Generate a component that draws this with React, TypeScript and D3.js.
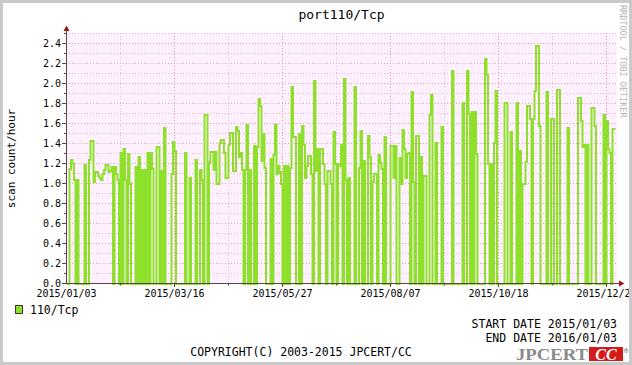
import React from 'react';
import * as d3 from 'd3';

// daily scan counts per hour, starting 2015/01/03
const block1 = [
  0, 0, 1.15, 1.24, 1.2, 1.04, 0, 1.04, 0, 0,
  0, 0, 1.19, 0, 0, 1.24, 1.43, 1.43, 1.02, 1.12,
  1.12, 1.08, 1.06, 1.03, 1.09, 1.14, 1.19, 1.19, 1.12, 1.13,
  1.17, 0, 1.17, 1.1, 1.03, 0, 1.31, 0, 1.35, 1.03,
  0, 1.3, 1.0, 0, 0, 0, 1.17, 0, 1.27, 0,
  1.14, 0, 1.14, 0, 1.31, 0, 1.31, 1.15, 0, 0,
];
const block2 = [
  1.37, 1.37, 0, 1.13, 0, 1.56, 0, 0, 0, 0,
  1.09, 1.42, 1.33, 0, 0, 0, 0, 0, 0, 1.31,
  0, 0, 1.06, 0, 0, 0, 1.24, 0, 0, 1.14,
  1.03, 0, 1.69, 1.69, 0, 1.22, 1.32, 1.32, 1.14, 1.32,
  1.0, 1.0, 1.41, 1.44, 1.44, 1.31, 1.06, 1.06, 1.39, 1.51,
  1.51, 1.13, 1.13, 1.57, 1.53, 1.27, 1.31, 1.14, 0, 1.14,
];
const block3 = [
  1.59, 0, 1.14, 0, 0, 1.38, 0, 1.36, 1.85, 1.78,
  1.23, 1.5, 1.16, 0, 0, 0, 1.25, 0, 1.29, 1.59,
  1.1, 1.18, 1.12, 1.0, 0, 1.18, 0, 1.18, 0, 1.16,
  1.96, 1.47, 1.47, 0, 0, 1.5, 0, 1.58, 1.39, 1.06,
  1.18, 1.28, 1.28, 1.1, 0, 2.03, 1.13, 1.34, 0, 1.34,
  1.34, 1.2, 1.0, 0, 1.13, 1.13, 1.0, 0, 1.52, 1.2,
];
const block4 = [
  0, 1.2, 1.18, 1.39, 0, 2.04, 1.03, 0, 1.06, 0,
  0, 0, 1.96, 0, 0, 1.16, 1.53, 0, 1.23, 0,
  0, 1.48, 1.27, 0, 1.02, 1.1, 1.1, 0, 1.29, 1.21,
  1.15, 0, 1.47, 0, 0, 0, 1.38, 1.38, 1.06, 1.38,
  0, 0, 1.26, 1.0, 1.54, 1.34, 1.05, 1.3, 1.31, 0,
  1.92, 1.02, 0, 1.48, 1.48, 0, 1.27, 0, 1.07, 1.07,
];
const block5 = [
  0, 0, 1.69, 1.89, 0, 0, 1.41, 0, 0, 0,
  1.57, 0, 0, 0, 0, 0, 0, 2.13, 0, 0,
  0, 0, 0, 0, 1.81, 0, 0, 2.13, 1.7, 0,
  1.72, 0, 1.72, 1.3, 0, 0, 0, 0, 0, 2.25,
  2.08, 1.2, 0, 1.2, 0, 1.41, 1.93, 0, 0, 0,
  0, 0, 1.81, 1.81, 0, 0, 1.52, 0, 0, 0,
];
const block6 = [
  1.81, 0, 1.33, 0, 1.0, 1.0, 1.22, 1.78, 1.78, 1.65,
  0, 1.65, 1.93, 2.37, 2.37, 1.58, 0, 0, 0, 0,
  1.92, 0, 0, 1.65, 1.65, 0, 0, 1.94, 1.94, 0,
  0, 0, 0, 0, 1.56, 0, 0, 0, 0, 0,
  0, 1.86, 1.86, 1.63, 1.36, 1.39, 0, 1.39, 0, 0,
  1.76, 1.76, 1.58, 0, 0, 0, 0, 0, 1.69, 0,
  1.62, 1.34, 1.31, 0, 1.55, 1.55,
];

const values = [...block1, ...block2, ...block3, ...block4, ...block5, ...block6];
const yTicks = [0, 0.2, 0.4, 0.6, 0.8, 1.0, 1.2, 1.4, 1.6, 1.8, 2.0, 2.2, 2.4];
const yMinor = d3.range(0, 26).map(i => i / 10);
const gridDays = d3.range(1, 11).map(k => k * 36);
const labelDays = [0, 72, 144, 216, 288, 360];

const startDate = new Date(Date.UTC(2015, 0, 3));
const seriesName = '110/Tcp';
const title = 'port110/Tcp';

const FONT = '"DejaVu Sans Mono", monospace';
const GREEN = '#8ee02a';

export default function App() {
  const W = 632, H = 365;
  const plotLeft = 66, plotRight = 617, plotTop = 33, plotBottom = 283;

  const endDate = d3.utcDay.offset(startDate, values.length);
  const x = d3.scaleUtc().domain([startDate, endDate]).range([66.5, 66.5 + 1.5 * values.length]);
  const y = d3.scaleLinear().domain([0, 2.5]).range([283.5, 33.5]);

  const pts = values.map((v, i) => ({ t: d3.utcDay.offset(startDate, i), v }));
  pts.push({ t: endDate, v: values[values.length - 1] });
  const line = d3.line<{ t: Date; v: number }>()
    .x(d => x(d.t))
    .y(d => Math.round(y(d.v)))
    .curve(d3.curveStepAfter);

  const fmt = d3.utcFormat('%Y/%m/%d');

  return (
    <svg width={W} height={H} style={{ position: 'absolute', left: 0, top: 0, background: '#fff' }}
      fontFamily={FONT}>
      <rect x={0} y={0} width={W} height={H} fill="#fff" />
      <rect x={plotLeft} y={plotTop} width={plotRight - plotLeft} height={plotBottom - plotTop} fill="#fff0ff" />

      {/* horizontal grid */}
      {yMinor.slice(1).map(v => (
        <line key={'h' + v} x1={plotLeft} x2={plotRight} y1={y(v)} y2={y(v)}
          stroke={Math.round(v * 10) % 2 === 0 ? '#e0a0b0' : '#dcb8c8'} strokeDasharray="1,2" />
      ))}
      {/* vertical grid */}
      {gridDays.map(d => (
        <line key={'v' + d} x1={x(d3.utcDay.offset(startDate, d))} x2={x(d3.utcDay.offset(startDate, d))}
          y1={plotTop} y2={plotBottom}
          stroke={d % 72 === 0 ? '#e89a9a' : '#d4c4d4'} strokeDasharray="1,2" />
      ))}

      {/* series */}
      <path d={line(pts) || ''} fill="none" stroke={GREEN} strokeWidth={2} />

      {/* axes */}
      <line x1={66.5} x2={66.5} y1={283.5} y2={29} stroke="#5c4444" />
      <line x1={66} x2={620} y1={283.5} y2={283.5} stroke="#5c4444" />
      <path d="M63.5,31 L69.5,31 L66.5,25.5 Z" fill="#a31515" />
      <path d="M619,280.5 L619,286.5 L624.5,283.5 Z" fill="#a31515" />
      {yMinor.map(v => (
        <line key={'t' + v} x1={Math.round(v * 10) % 2 === 0 ? 62 : 64} x2={66} y1={y(v)} y2={y(v)} stroke="#5c4444" />
      ))}
      {gridDays.map(d => (
        <line key={'xt' + d} x1={x(d3.utcDay.offset(startDate, d))} x2={x(d3.utcDay.offset(startDate, d))}
          y1={284} y2={d % 72 === 0 ? 287 : 285.5} stroke="#5c4444" />
      ))}

      {/* y labels */}
      {yTicks.map(v => (
        <text key={'yl' + v} x={61} y={y(v) + 3.5} fontSize={10} textAnchor="end" fill="#000">{v.toFixed(1)}</text>
      ))}
      {/* x labels */}
      {labelDays.map(d => (
        <text key={'xl' + d} x={x(d3.utcDay.offset(startDate, d))} y={296.5} fontSize={10} textAnchor="middle" fill="#000">
          {fmt(d3.utcDay.offset(startDate, d))}
        </text>
      ))}

      <text x={341.5} y={18.5} fontSize={13} textAnchor="middle" fill="#000">{title}</text>
      <text transform="translate(15,158.5) rotate(-90)" fontSize={11} textAnchor="middle" fill="#000">scan count/hour</text>
      <text transform="translate(620,5) rotate(90)" fontSize={8.5} fill="#b4b4b4">RRDTOOL / TOBI OETIKER</text>

      {/* legend */}
      <rect x={15.5} y={305.5} width={7} height={8} fill={GREEN} stroke="#3a3a3a" />
      <text x={30} y={313.5} fontSize={11.5} fill="#000">{seriesName}</text>

      <text x={617} y={327.5} fontSize={11.5} textAnchor="end" fill="#000">START DATE 2015/01/03</text>
      <text x={617} y={341.5} fontSize={11.5} textAnchor="end" fill="#000">END DATE 2016/01/03</text>
      <text x={301} y={355.5} fontSize={11.5} textAnchor="middle" fill="#000">COPYRIGHT(C) 2003-2015 JPCERT/CC</text>

      {/* logo */}
      <text x={516} y={360} fontSize={17} fontWeight="bold" fontFamily='"Liberation Serif", serif'
        fill="#8a8a8a" textLength={72} lengthAdjust="spacingAndGlyphs">JPCERT</text>
      <rect x={589} y={347} width={34} height={14} fill="#d41a1a" />
      <text x={606} y={360} fontSize={16} fontWeight="bold" fontStyle="italic" fontFamily='"Liberation Serif", serif'
        fill="#fff" textAnchor="middle">CC</text>
      <text x={624} y={353} fontSize={7} fill="#555">®</text>

      <rect x={1.5} y={1.5} width={W - 3} height={H - 3} fill="none" stroke="#cacaca" strokeWidth={3} />
    </svg>
  );
}
